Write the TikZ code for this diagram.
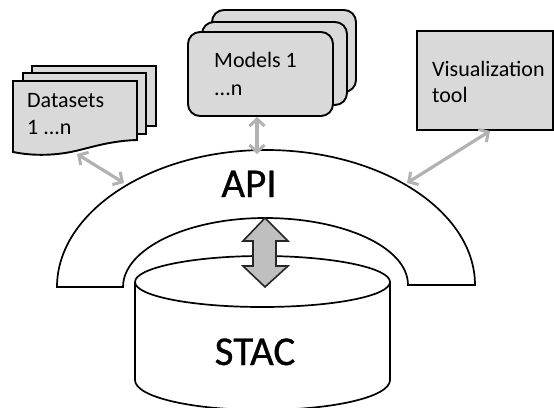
\documentclass[tikz,border=0pt]{standalone}
\usepackage{fontspec}
\setmainfont{Carlito}
\newfontfamily\bigface[FakeBold=0.7]{Carlito}
\usetikzlibrary{arrows.meta}
\definecolor{boxgrey}{HTML}{D9D9D9}
\definecolor{linkgrey}{HTML}{B2B2B2}
\definecolor{blockgrey}{HTML}{BFBFBF}
\tikzset{
  shapeline/.style={draw=black,line width=1.9pt,line join=miter},
  stacked/.style={shapeline,fill=boxgrey},
  modelcard/.style={stacked,rounded corners=12pt},
  plainwhite/.style={draw=black,line width=1.7pt,fill=white},
  smalltext/.style={anchor=base west,inner sep=0pt,font=\fontsize{22}{26}\selectfont,text=black},
  bigtext/.style={anchor=base,inner sep=0pt,font=\bigface\fontsize{41}{46}\selectfont,text=black},
  linkarrow/.style={draw=linkgrey,line width=3.2pt,{Straight Barb[length=7pt,width=15pt,line width=3pt]}-{Straight Barb[length=7pt,width=15pt,line width=3pt]}},
  blockarrow/.style={draw=black!85,line width=1.6pt,fill=blockgrey,line join=miter}
}
\begin{document}
\begin{tikzpicture}[x=1pt,y=-1pt]
\clip (0,0) rectangle (554,407);
\fill[white] (0,0) rectangle (554,407);
% API arch
\draw[plainwhite] (57,287) .. controls (57,212) and (151,150) .. (266,150)
  .. controls (381,150) and (475,211) .. (475,285) -- (408,285)
  .. controls (408,247) and (343,218) .. (265,218)
  .. controls (187,218) and (123,249) .. (123,287) -- cycle;
% STAC cylinder
\draw[plainwhite] (135,282) -- (135,380) .. controls (135,397) and (192,410) .. (262,410)
  .. controls (333,410) and (390,397) .. (390,380) -- (390,282)
  .. controls (390,268) and (333,256) .. (262,256)
  .. controls (192,256) and (135,268) .. (135,282) -- cycle;
\draw[draw=black,line width=1.7pt] (135,282) .. controls (135,296) and (192,307) .. (262,307)
  .. controls (333,307) and (390,296) .. (390,282);
% Block arrow
\draw[blockarrow] (265,218) -- (288,241) -- (276,241) -- (276,266) -- (288,266)
  -- (265,287) -- (243,266) -- (253,266) -- (253,241) -- (243,241) -- cycle;
% Datasets stack
\draw[stacked] (32,66) -- (156,66) -- (156,126) -- (32,126) -- cycle;
\draw[stacked] (23,73) -- (146,73) -- (146,134) -- (23,134) -- cycle;
\draw[stacked] (13,81) -- (137,81) -- (137,140)
  .. controls (105,141) and (85,150) .. (65,153) .. controls (45,156) and (28,155) .. (13,152) -- cycle;
% Models stack
\draw[modelcard] (212,10) rectangle (356,92);
\draw[modelcard] (202,22) rectangle (347,105);
\draw[modelcard] (188,32) rectangle (333,116);
% Visualization box
\node[draw=black,line width=2pt,fill=boxgrey,minimum width=136pt,minimum height=99pt,inner sep=0pt] (vis) at (485,80.5) {};
% Labels
\node[smalltext] (dsa) at (27,107) {Datasets};
\node[smalltext] (dsb) at (27,134) {1 ...n};
\node[smalltext] (moa) at (214,67) {Models 1};
\node[smalltext] (mob) at (214,95) {...n};
\node[smalltext] (via) at (432,76) {Visualization};
\node[smalltext] (vib) at (432,102) {tool};
\node[bigtext] (api) at (249,197) {API};
\node[bigtext] (stac) at (255,365) {STAC};
% Link ends
\coordinate (dsend) at (77,154);
\coordinate (archl) at (124,183);
\coordinate (moend) at (257,117);
\coordinate (archt) at (257,154);
\coordinate (viend) at (490,131);
\coordinate (archr) at (407,183);
\draw[linkarrow] (dsend) -- (archl);
\draw[linkarrow] (moend) -- (archt);
\draw[linkarrow] (viend) -- (archr);
\end{tikzpicture}
\end{document}
